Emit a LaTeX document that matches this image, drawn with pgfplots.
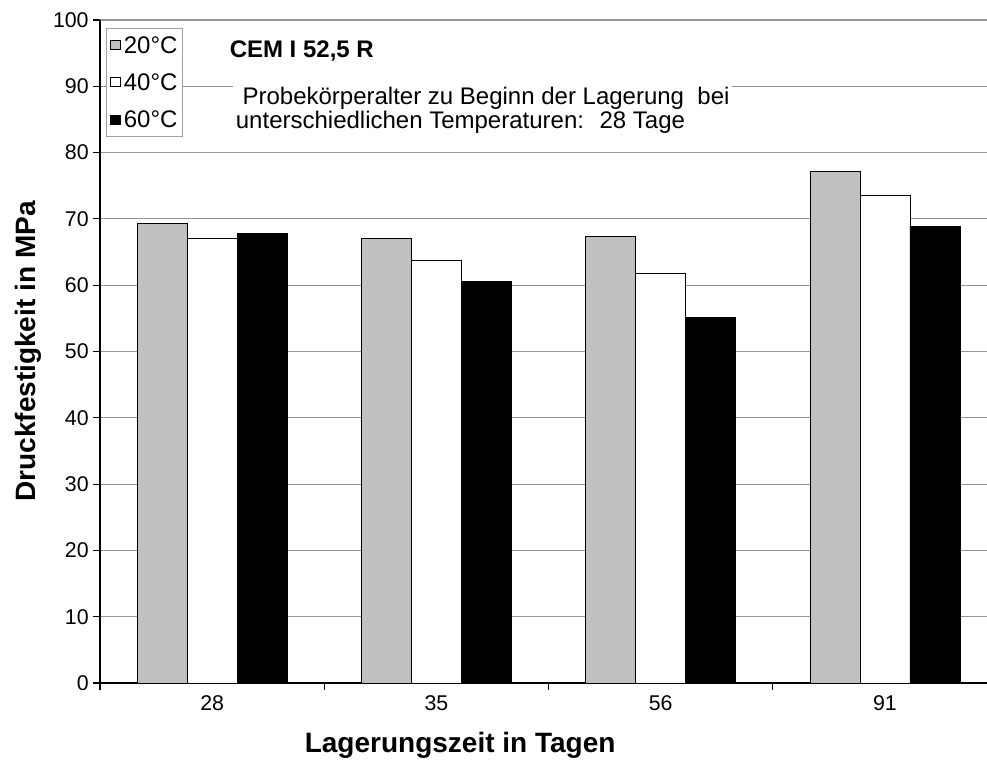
\documentclass[border=0pt]{standalone}
\usepackage{fontspec}
\setmainfont{Liberation Sans}
\usepackage{pgfplots}
\pgfplotsset{compat=1.18}
\definecolor{barGrey}{RGB}{192,192,192}
\definecolor{gridGrey}{RGB}{150,150,150}
\definecolor{legGrey}{RGB}{160,160,160}
\begin{document}
\begin{tikzpicture}
\begin{axis}[
  scale only axis,
  width=665.25pt, height=497.25pt,
  xmin=-0.5, xmax=3.455,
  ymin=0, ymax=100,
  ybar,
  bar width=0.2229,
  axis x line*=bottom, axis y line*=left,
  axis line style={line width=1.5pt, black},
  ytick={0,10,...,100},
  ymajorgrids,
  grid style={gridGrey, line width=0.8pt},
  xtick={-0.5,0.5,1.5,2.5},
  xticklabels={},
  extra x ticks={0,1,2,3},
  extra x tick labels={28,35,56,91},
  extra x tick style={major tick length=0pt, xticklabel style={yshift=-6pt}},
  tick align=outside,
  major tick length=5pt,
  tick style={black, line width=0.8pt},
  /pgf/number format/assume math mode=true,
  ticklabel style={font=\fontsize{16}{19}\selectfont},
  xlabel={Lagerungszeit in Tagen},
  ylabel={Druckfestigkeit in MPa},
  label style={font=\fontsize{21}{25}\selectfont\bfseries},
  xlabel style={at={(axis description cs:0.406,-0.094)}, anchor=center},
  ylabel style={at={(axis description cs:-0.081,0.5)}, anchor=center},
  legend style={at={(axis description cs:0.0068,0.988)}, anchor=north west,
    draw=legGrey, line width=0.6pt, fill=white,
    font=\fontsize{18}{20}\selectfont,
    nodes={inner sep=1pt, text depth=0pt},
    row sep=13.5pt, inner xsep=3pt, inner ysep=5pt},
  legend cell align=left,
  legend image code/.code={\draw[#1,draw=black,line width=0.5pt] (0pt,-3.5pt) rectangle (7pt,3.5pt); \path (8.5pt,0pt);},
]
\addplot[fill=barGrey, draw=black, line width=0.6pt, bar shift=-0.2229] coordinates {(0,69.3) (1,67.0) (2,67.4) (3,77.1)};
\addlegendentry{20°C}
\addplot[fill=white, draw=black, line width=0.6pt, bar shift=0] coordinates {(0,67.0) (1,63.7) (2,61.8) (3,73.5)};
\addlegendentry{40°C}
\addplot[fill=black, draw=black, line width=0.6pt, bar shift=0.2229] coordinates {(0,67.8) (1,60.5) (2,55.2) (3,68.9)};
\addlegendentry{60°C}
\node[anchor=west, font=\fontsize{18}{20}\selectfont\bfseries, inner sep=0pt] at (axis description cs:0.146,0.953) {CEM I 52,5 R};
\node[anchor=west, fill=white, align=left, inner sep=2pt, font=\fontsize{18}{18.5}\selectfont] at (axis description cs:0.1499,0.864) {\ Probekörperalter zu Beginn der Lagerung~ bei\\unterschiedlichen Temperaturen:~ 28 Tage};
\coordinate (SW) at (rel axis cs:0,0);
\coordinate (NE) at (rel axis cs:1,1);
\end{axis}
\pgfresetboundingbox
\path[use as bounding box] ([xshift=-75pt,yshift=-58.5pt]SW) rectangle ([yshift=15pt]NE);
\end{tikzpicture}
\end{document}
